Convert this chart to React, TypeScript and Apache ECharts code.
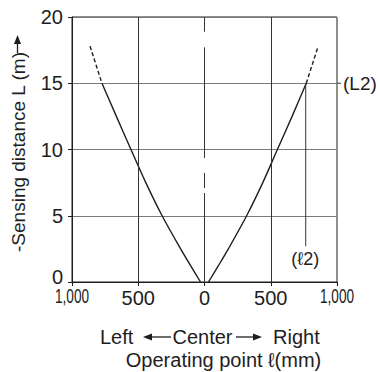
import React, { useEffect, useRef } from 'react';
import * as echarts from 'echarts';

const xMin = -1000;
const xMax = 1000;
const xInterval = 500;
const yMin = 0;
const yMax = 20;
const yInterval = 5;

// Left branch (solid part)
const leftSolidY = [15, 12.5, 10, 7.5, 5, 2.5, 1.25, 0];
const leftSolidX = [-774, -665, -555, -443, -320, -180, -106, -30];
// Left branch (dashed extension)
const leftDashY = [17.8, 15];
const leftDashX = [-864, -774];
// Right branch (solid part)
const rightSolidY = [0, 1.25, 2.5, 5, 7.5, 10, 12.5, 15];
const rightSolidX = [30, 106, 180, 318, 440, 550, 661, 768];
// Right branch (dashed extension)
const rightDashY = [15, 17.8];
const rightDashX = [768, 858];
// ℓ2 marker line
const l2X = 764;
const l2Y = [15, 2.7];
// L2 level
const L2 = 15;
// center line (dashed segments, y from / to)
const centerX = 0;
const centerSegments = [[20, 18.89], [17.71, 9.36], [8.23, 7.09], [6.72, 0]];
const halfGridX = [-500, 500];
const endTicks = [-1000, 1000];

const FONT = 'Liberation Sans, Arial, Helvetica, sans-serif';
const INK = '#1e1e1e';

const zip = (xs: number[], ys: number[]) => xs.map((x, i) => [x, ys[i]]);

export default function App() {
  const ref = useRef<HTMLDivElement>(null);
  useEffect(() => {
    if (!ref.current) return;
    const chart = echarts.init(ref.current, null, { renderer: 'svg' });
    const curveStyle = { color: INK, width: 1.4 };
    chart.setOption({
      animation: false,
      backgroundColor: '#fff',
      grid: { left: 72, right: 41, top: 17, bottom: 90, show: true, borderColor: INK, borderWidth: 1 },
      xAxis: {
        type: 'value', min: xMin, max: xMax, interval: xInterval,
        axisLine: { show: true, onZero: false, lineStyle: { color: INK, width: 1 } },
        axisTick: { show: true, length: 4, lineStyle: { color: INK } },
        splitLine: { show: false },
        axisLabel: {
          margin: 6, color: INK, fontSize: 20, fontFamily: FONT,
          formatter: (v: number) => (Math.abs(v) === 1000 ? '' : String(Math.abs(v))),
        },
      },
      yAxis: {
        type: 'value', min: yMin, max: yMax, interval: yInterval,
        axisLine: { show: true, onZero: false, lineStyle: { color: INK, width: 1 } },
        axisTick: { show: true, length: 4, lineStyle: { color: INK } },
        splitLine: { show: true, lineStyle: { color: '#7a7a7a', width: 1 } },
        axisLabel: {
          margin: 9, color: INK, fontSize: 20, fontFamily: FONT,
          formatter: (v: number) => (v === 0 ? '{z|0}' : String(v)),
          rich: { z: { fontSize: 20, fontFamily: FONT, color: INK, padding: [0, 0, 11, 0] } },
        },
      },
      series: [
        {
          type: 'line', data: [], symbol: 'none',
          markLine: {
            silent: true, symbol: 'none', label: { show: false },
            lineStyle: { color: '#333', width: 1, type: 'solid' },
            data: [
              ...halfGridX.map((x) => ({ xAxis: x })),
              ...centerSegments.map((s) => [{ coord: [centerX, s[0]] }, { coord: [centerX, s[1]] }]),
            ],
          },
        },
        { type: 'line', data: zip(leftSolidX, leftSolidY), symbol: 'none', smooth: 0.3, lineStyle: curveStyle },
        { type: 'line', data: zip(leftDashX, leftDashY), symbol: 'none', lineStyle: { ...curveStyle, type: [4, 2.5] } },
        { type: 'line', data: zip(rightSolidX, rightSolidY), symbol: 'none', smooth: 0.3, lineStyle: curveStyle },
        { type: 'line', data: zip(rightDashX, rightDashY), symbol: 'none', lineStyle: { ...curveStyle, type: [4, 2.5] } },
        { type: 'line', data: zip(l2Y.map(() => l2X), l2Y), symbol: 'none', lineStyle: { color: '#333', width: 1 } },
      ],
    });

    const px = (x: number, y: number) => chart.convertToPixel({ gridIndex: 0 }, [x, y]) as number[];
    const pL2 = px(xMax, L2);
    const pl2 = px(l2X, l2Y[1]);
    const txt = (x: number, y: number, text: string, size: number, align = 'left', extra: any = {}) => ({
      type: 'text', x, y, silent: true, ...extra,
      style: { text, fill: INK, font: `${size}px ${FONT}`, textAlign: align, textVerticalAlign: 'middle' },
    });
    chart.setOption({
      graphic: [
        ...endTicks.map((v) => {
          const p = px(v, yMin);
          return txt(p[0], 297, '1,000', 20, 'center', { scaleX: 0.68 });
        }),
        { type: 'line', shape: { x1: pL2[0], y1: pL2[1], x2: pL2[0] + 4, y2: pL2[1] }, style: { stroke: '#333', lineWidth: 1 } },
        txt(pL2[0] + 6, pL2[1], '(L2)', 19, 'left'),
        txt(pl2[0] - 0.5, pl2[1] + 13, '(ℓ2)', 18, 'center'),
        // y axis title
        txt(18, 152, '-Sensing distance L (m)', 19, 'center', { rotation: Math.PI / 2 }),
        { type: 'line', shape: { x1: 17.5, y1: 53, x2: 17.5, y2: 42 }, style: { stroke: INK, lineWidth: 1.3 } },
        { type: 'polygon', shape: { points: [[17.5, 35], [14, 44], [21, 44]] }, style: { fill: INK } },
        // x axis title line 1
        txt(100, 337, 'Left', 20, 'left'),
        { type: 'polygon', shape: { points: [[143, 337], [152, 333.5], [152, 340.5]] }, style: { fill: INK } },
        { type: 'line', shape: { x1: 151, y1: 337, x2: 171, y2: 337 }, style: { stroke: INK, lineWidth: 1.3 } },
        txt(202.5, 337, 'Center', 20, 'center'),
        { type: 'line', shape: { x1: 236, y1: 337, x2: 254, y2: 337 }, style: { stroke: INK, lineWidth: 1.3 } },
        { type: 'polygon', shape: { points: [[262, 337], [253, 333.5], [253, 340.5]] }, style: { fill: INK } },
        txt(273, 337, 'Right', 20, 'left'),
        // x axis title line 2
        txt(223.5, 359.5, 'Operating point ℓ(mm)', 20, 'center'),
      ],
    });
    return () => chart.dispose();
  }, []);
  return <div ref={ref} style={{ position: 'fixed', left: 0, top: 0, width: 378, height: 372, background: '#fff' }} />;
}
